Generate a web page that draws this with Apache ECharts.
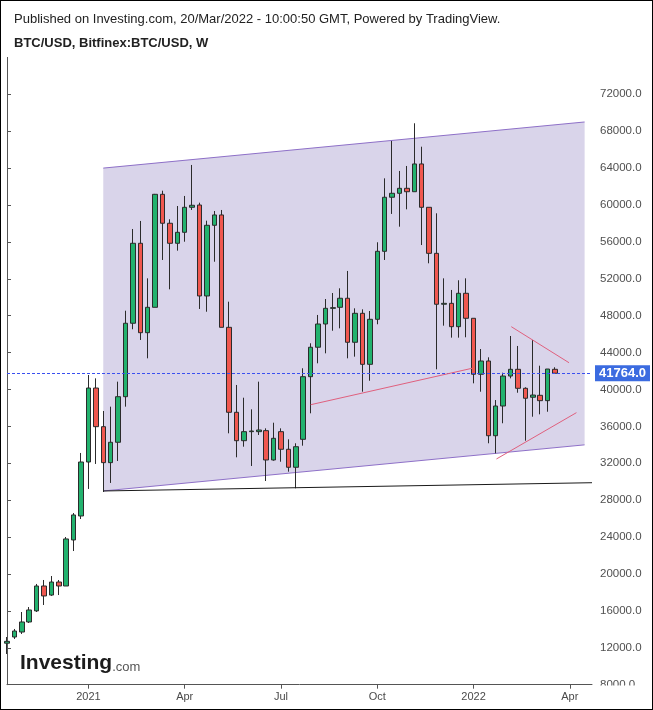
<!DOCTYPE html>
<html><head><meta charset="utf-8">
<script src="https://cdn.jsdelivr.net/npm/echarts@6/dist/echarts.min.js"></script>
<style>html,body{margin:0;padding:0;background:#fff;overflow:hidden}#c{width:653px;height:710px}#f{position:absolute;left:0;top:0;width:653px;height:710px;box-sizing:border-box;border:1px solid #000;pointer-events:none}</style>
</head><body><div id="c"></div><div id="f"></div>
<script>
// Weekly bars (Sunday start), first bar on 2020-10-18
const firstBarDate = '2020-10-18';
const barCount = 80;
const open  = [12500,13170,13710,14800,16000,18700,17720,19130,18700,23690,26290,
  32140,40160,35970,32070,34280,39220,47180,55850,46160,48910,61160,58020,55850,57040,59750,
  60000,50140,57800,58920,46740,37530,34450,35430,35430,35540,32360,35430,33520,31570,34600,
  41390,44580,47100,48800,48910,49890,45120,48260,42730,47610,54980,60840,61270,61810,61440,
  64450,59750,54760,49240,49340,46810,50430,47720,41650,43090,34990,38210,41460,42190,40130,
  39160,39370,38790,42190];
const close = [12700,13820,14800,16100,18700,17620,19130,18700,23800,26400,32140,
  40160,35970,32070,34280,39220,47180,55850,46160,48910,61160,58020,55850,57040,59750,59970,
  50140,57800,58920,46740,37530,34450,35430,35500,35610,32360,34710,33520,31570,33800,41390,
  44580,47100,48800,48870,49890,45120,48260,42730,47610,54980,60840,61270,61810,61440,64450,
  59750,54760,49240,49340,46810,50430,47720,41650,43090,34990,38210,41460,42190,40130,39050,
  39400,38790,42220,41764];
const low   = [11330,12960,13500,14690,15880,16640,17620,17720,18700,22490,25960,
  29220,31930,28890,29870,32250,38140,46530,45370,43380,48910,54040,50860,55050,56020,59460,
  48730,48430,53850,46740,35250,32650,33800,31710,35070,30080,32280,32170,31090,29290,33910,
  37420,42840,43920,46370,46630,43380,43560,39760,40950,47070,54040,59030,57650,59530,61440,
  55660,53680,42190,46920,45620,45620,45660,40670,39760,34170,33080,36340,41210,39650,34450,
  37050,37310,37590,41680];
const high  = [13170,14040,15880,16420,18920,19350,19780,19350,24010,26610,33120,
  41570,41210,37670,38140,40850,48540,57400,58270,52050,61200,61550,58450,59890,60980,64340,
  60250,58300,59350,59460,49520,40490,39110,37850,40850,35790,36400,35790,34600,34170,42300,
  45010,48080,49810,50460,50970,52850,48800,48690,48510,55960,62890,66940,63690,64230,68860,
  66320,59750,59100,52050,50790,51840,52050,47720,44390,43490,38860,41820,45800,44720,40240,
  45370,42580,42220,42410];
const lastPrice = 41764;
const yTicks = {min: 8000, max: 76000, step: 4000};
// drawn annotations: [bar index, price]
const channelTop    = [[13, 64000], [78, 69000]];
const channelBottom = [[13, 29000], [78, 34000]];
const baseLine      = [[13, 29000], [79, 29895]];
const risingLine    = [[41, 38350], [62.8, 42300]];
const triUpper      = [[68.1, 46810], [75.9, 42900]];
const triLower      = [[66.1, 32470], [76.9, 37490]];

const categories = [];
{
  const t0 = Date.parse(firstBarDate + 'T00:00:00Z');
  for (let i = 0; i < barCount; i++) {
    categories.push(new Date(t0 + i * 7 * 86400000).toISOString().slice(0, 10));
  }
}
const MONTHS = ['Jan','Feb','Mar','Apr','May','Jun','Jul','Aug','Sep','Oct','Nov','Dec'];
function isQuarterStart(v) {
  const m = +v.slice(5, 7) - 1, d = +v.slice(8, 10);
  return d <= 7 && m % 3 === 0;
}
const FONT = '"Liberation Sans", Arial, sans-serif';
const candles = open.map((o, i) => [o, close[i], low[i], high[i]]);

function lineSeries(pts, color) {
  return {type: 'line', xAxisIndex: 1, yAxisIndex: 0, data: pts, symbol: 'none', silent: true,
    z: 5, lineStyle: {color: color, width: 1}, clip: true};
}

const chart = echarts.init(document.getElementById('c'), null, {renderer: 'canvas'});
chart.setOption({
  animation: false,
  backgroundColor: '#fff',
  textStyle: {fontFamily: FONT},
  grid: {left: 7, right: 61, top: 57.4, bottom: 25.3, containLabel: false},
  xAxis: [{
    type: 'category', data: categories, boundaryGap: false,
    axisLine: {lineStyle: {color: '#555', width: 1}},
    axisTick: {show: true, length: 4, interval: (i, v) => isQuarterStart(v), lineStyle: {color: '#555'}},
    axisLabel: {interval: (i, v) => isQuarterStart(v), margin: 7, color: '#4a4a4a', fontSize: 11, fontFamily: FONT,
      formatter: v => (+v.slice(5, 7) === 1 ? v.slice(0, 4) : MONTHS[+v.slice(5, 7) - 1])},
    splitLine: {show: false}
  }, {
    type: 'value', min: 0, max: barCount - 1, show: false
  }],
  yAxis: [{
    type: 'value', position: 'right', min: yTicks.min, max: yTicks.max, interval: yTicks.step,
    axisLine: {show: true, lineStyle: {color: '#555'}},
    axisTick: {show: true, length: 4, lineStyle: {color: '#555'}},
    axisLabel: {color: '#505050', fontSize: 11.5, fontFamily: FONT, margin: 8, showMaxLabel: false,
      formatter: v => v.toFixed(1)},
    splitLine: {show: false}
  }],
  series: [
    {
      type: 'custom', xAxisIndex: 1, yAxisIndex: 0, z: 1, silent: true, clip: true,
      data: [[0, 0]],
      renderItem: (params, api) => {
        const a = api.coord(channelTop[0]), b = api.coord(channelTop[1]);
        const c = api.coord(channelBottom[1]), d = api.coord(channelBottom[0]);
        return {type: 'group', children: [
          {type: 'polygon', shape: {points: [a, b, c, d]}, style: {fill: '#d9d4ea', stroke: null}},
          {type: 'line', shape: {x1: a[0], y1: a[1], x2: b[0], y2: b[1]}, style: {stroke: '#8e70c8', lineWidth: 1}},
          {type: 'line', shape: {x1: d[0], y1: d[1], x2: c[0], y2: c[1]}, style: {stroke: '#8e70c8', lineWidth: 1}}
        ]};
      }
    },
    lineSeries(baseLine, '#1a1a1a'),
    {
      type: 'candlestick', xAxisIndex: 0, yAxisIndex: 0, data: candles, barWidth: 5, z: 3, clip: true,
      itemStyle: {color: '#22b26e', color0: '#f0574f', borderColor: '#2b2b2b', borderColor0: '#2b2b2b', borderWidth: 1},
      markLine: {
        silent: true, symbol: 'none', z: 4,
        lineStyle: {color: '#3a4ff0', type: [3, 2], width: 1, opacity: 1},
        label: {show: true, position: 'end', distance: 3, formatter: lastPrice.toFixed(1),
          color: '#fff', fontWeight: 'bold', fontSize: 13, fontFamily: FONT,
          backgroundColor: '#3b6be0', padding: [2, 4, 1, 4]},
        data: [{yAxis: lastPrice}]
      }
    },
    lineSeries(risingLine, '#e0607e'),
    lineSeries(triUpper, '#e0607e'),
    lineSeries(triLower, '#e0607e')
  ],
  graphic: [
    {type: 'text', left: 14, top: 13, style: {text: 'Published on Investing.com, 20/Mar/2022 - 10:00:50 GMT, Powered by TradingView.', font: '13px ' + FONT, fill: '#222'}},
    {type: 'text', left: 14, top: 37, style: {text: 'BTC/USD, Bitfinex:BTC/USD, W', font: 'bold 13px ' + FONT, fill: '#222'}},
    {type: 'text', left: 20, top: 653, z: 50, style: {
      text: '{a|Investing}{b|.com}', rich: {
        a: {font: 'bold 21px ' + FONT, fill: '#1c1c1c', verticalAlign: 'bottom'},
        b: {font: '13px ' + FONT, fill: '#555', verticalAlign: 'bottom'}
      }}},
    {type: 'rect', left: 594, top: 685.5, z: 100, shape: {width: 58, height: 23}, style: {fill: '#fff'}}
  ]
});
</script></body></html>
